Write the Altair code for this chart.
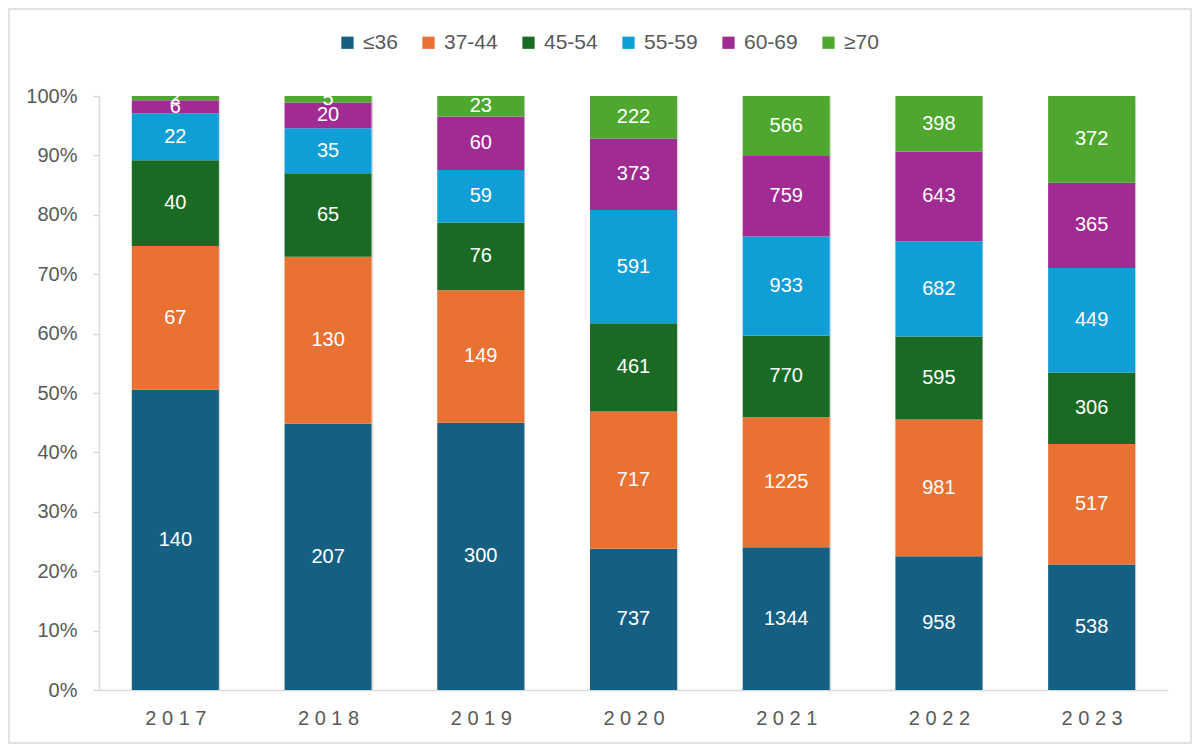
import altair as alt
import pandas as pd

years = ["2017", "2018", "2019", "2020", "2021", "2022", "2023"]
groups = ["≤36", "37-44", "45-54", "55-59", "60-69", "≥70"]
colors = ["#156082", "#E97132", "#196B24", "#0F9ED5", "#A02B93", "#4EA72E"]

v_le36 = [140, 207, 300, 737, 1344, 958, 538]
v_37_44 = [67, 130, 149, 717, 1225, 981, 517]
v_45_54 = [40, 65, 76, 461, 770, 595, 306]
v_55_59 = [22, 35, 59, 591, 933, 682, 449]
v_60_69 = [6, 20, 60, 373, 759, 643, 365]
v_ge70 = [2, 5, 23, 222, 566, 398, 372]

series = [v_le36, v_37_44, v_45_54, v_55_59, v_60_69, v_ge70]
rows = []
for gi, (g, vals) in enumerate(zip(groups, series)):
    for y, v in zip(years, vals):
        rows.append({"year": y, "group": g, "order": gi, "value": v})
df = pd.DataFrame(rows)

W, H = 1069, 594
FONT = "Liberation Sans"
GRAY = "#595959"
LINE = "#D9D9D9"

base = alt.Chart(df).transform_stack(
    stack="value",
    groupby=["year"],
    as_=["y0", "y1"],
    sort=[alt.SortField("order", order="ascending")],
    offset="normalize",
).transform_calculate(mid="(datum.y0 + datum.y1) / 2")

xenc = alt.X(
    "year:N",
    sort=years,
    scale=alt.Scale(paddingInner=0.43, paddingOuter=0.215),
    axis=alt.Axis(
        title=None,
        labelAngle=0,
        tickBand="extent",
        grid=True,
        gridColor=LINE,
        gridWidth=1.5,
        ticks=False,
        domainColor=LINE,
        domainWidth=1.5,
        labelFontSize=20,
        labelColor=GRAY,
        labelPadding=18,
        labelExpr="substring(datum.label,0,1)+' '+substring(datum.label,1,2)+' '+substring(datum.label,2,3)+' '+substring(datum.label,3,4)",
    ),
)

bars = base.mark_bar().encode(
    x=xenc,
    y=alt.Y(
        "y0:Q",
        scale=alt.Scale(domain=[0, 1]),
        axis=alt.Axis(
            title=None,
            values=[0, 0.1, 0.2, 0.3, 0.4, 0.5, 0.6, 0.7, 0.8, 0.9, 1.0],
            format=".0%",
            grid=False,
            domainColor=LINE,
            domainWidth=1.5,
            tickColor=LINE,
            tickSize=6,
            tickWidth=1.5,
            labelFontSize=20,
            labelColor=GRAY,
            labelPadding=16,
        ),
    ),
    y2="y1:Q",
    color=alt.Color(
        "group:N",
        scale=alt.Scale(domain=groups, range=colors),
        legend=alt.Legend(
            title=None,
            orient="none",
            legendX=238,
            legendY=-64,
            direction="horizontal",
            symbolType="square",
            symbolSize=150,
            symbolStrokeWidth=0,
            labelFontSize=21,
            labelColor=GRAY,
            columnPadding=20,
            labelOffset=5,
            padding=0,
        ),
    ),
    order=alt.Order("order:Q"),
)

labels = base.mark_text(color="white", fontSize=20, align="center", baseline="middle").encode(
    x=alt.X("year:N", sort=years),
    y=alt.Y("mid:Q"),
    text=alt.Text("value:Q"),
)

frame = alt.Chart(alt.Data(values=[{}])).mark_rect(
    fillOpacity=0, stroke=LINE, strokeWidth=1.5
).encode(
    x=alt.value(-90), x2=alt.value(W + 23), y=alt.value(-87), y2=alt.value(H + 53)
)

chart = alt.layer(bars, labels, frame).properties(
    width=W,
    height=H,
    padding={"left": 91, "top": 88, "right": 24, "bottom": 54},
    autosize=alt.AutoSizeParams(type="none"),
).configure(font=FONT).configure_view(stroke=None)

chart.save("out.html", embed_options={"renderer": "svg", "actions": False})
